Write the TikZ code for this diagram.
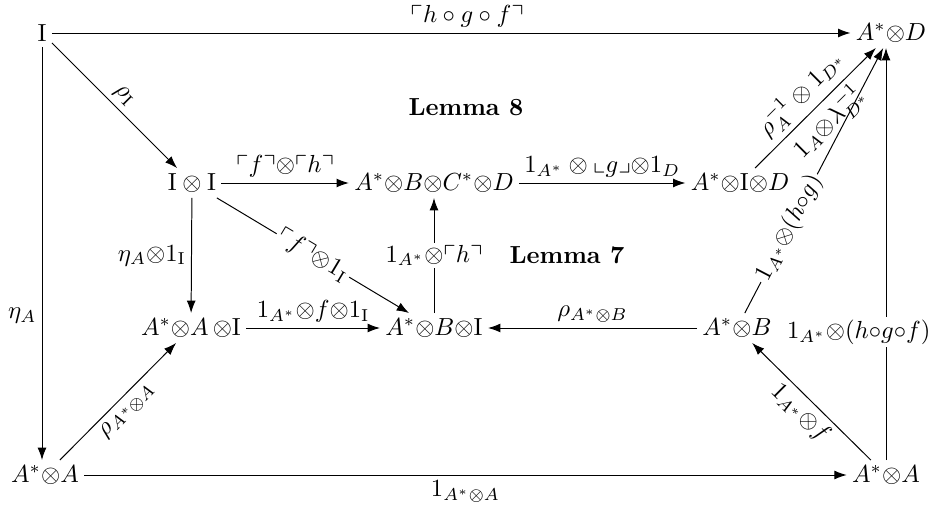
\documentclass[tikz,border=0pt]{standalone}
\usepackage{amsmath,amssymb}
\usetikzlibrary{arrows.meta}
\begin{document}
\begin{tikzpicture}[x=0.405pt,y=-0.405pt,
  >={Latex[length=5pt,width=3.6pt]},
  every node/.style={inner sep=2pt},
  lbl/.style={inner sep=2pt},
  onl/.style={fill=white, inner sep=1pt}]
\useasboundingbox (0,0) rectangle (937,511);
% nodes
\node (I)    at (42,33)   {$\mathrm{I}$};
\node (AD)   at (891,33)  {$A^*{\otimes}D$};
\node (II)   at (192,183) {$\mathrm{I}\otimes\mathrm{I}$};
\node (ABCD) at (434,183) {$A^*{\otimes}B{\otimes}C^*{\otimes}D$};
\node (AID)  at (740,183) {$A^*{\otimes}\mathrm{I}{\otimes}D$};
\node (AAI)  at (191,328) {$A^*{\otimes}A\,{\otimes}\mathrm{I}$};
\node (ABI)  at (434,328) {$A^*{\otimes}B{\otimes}\mathrm{I}$};
\node (AB)   at (737,328) {$A^*{\otimes}B$};
\node (AAl)  at (45,475)  {$A^*{\otimes}A$};
\node (AAr)  at (886,475) {$A^*{\otimes}A$};
\node (L8)   at (466,107) {\textbf{Lemma 8}};
\node (L7)   at (567,255) {\textbf{Lemma 7}};
% arrows
\draw[->] (I) -- node[lbl, above, pos=0.52]{$\ulcorner h\circ g\circ f\urcorner$} (AD);
\draw[->] (I) -- node[lbl, sloped, above]{$\rho_{\mathrm{I}}$} (II);
\draw[->] (I) -- node[lbl, left, pos=0.65]{$\eta_A$} (I |- AAl.north);
\draw[->] (II) -- node[lbl, above]{$\ulcorner f\urcorner{\otimes}\ulcorner h\urcorner$} (ABCD);
\draw[->] (ABCD) -- node[lbl, above]{$1_{A^*}\otimes\llcorner g\lrcorner{\otimes}1_D$} (AID);
\draw[->] (AID) -- node[lbl, sloped, above]{$\rho_A^{-1}\otimes 1_{D^*}$}
                   node[lbl, sloped, below]{$1_A{\otimes}\lambda^{-1}_{D^*}$} (AD);
\draw[->] (II) -- node[lbl, left]{$\eta_A{\otimes}1_{\mathrm{I}}$} (AAI);
\draw[->] (II) -- node[onl, sloped]{$\ulcorner f\urcorner{\otimes}1_{\mathrm{I}}$} (ABI);
\draw[->] (ABI) -- node[onl]{$1_{A^*}{\otimes}\ulcorner h\urcorner$} (ABCD);
\draw[->] (AAI) -- node[lbl, above]{$1_{A^*}{\otimes}f{\otimes}1_{\mathrm{I}}$} (ABI);
\draw[->] (AB) -- node[lbl, above]{$\rho_{A^*\otimes B}$} (ABI);
\draw[->] (AB) -- node[onl, sloped, pos=0.32]{$1_{A^*}{\otimes}(h{\circ}g)$} (AD);
\draw[->] (AAl) -- node[lbl, sloped, below]{$\rho_{A^*\otimes A}$} (AAI);
\draw[->] (AAr) -- node[lbl, sloped, below]{$1_{A^*}{\otimes}f$} (AB);
\draw[->] (AAr) -- node[onl, pos=0.31, xshift=-11pt]{$1_{A^*}{\otimes}(h{\circ}g{\circ}f)$} (AAr |- AD.south);
\draw[->] (AAl) -- node[lbl, below]{$1_{A^*\otimes A}$} (AAr);
\end{tikzpicture}
\end{document}
